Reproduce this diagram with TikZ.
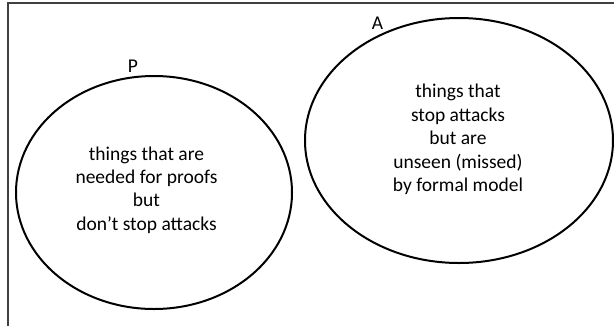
\documentclass[tikz,border=0pt]{standalone}
\usepackage{fontspec}
\setmainfont{Carlito}
\usetikzlibrary{shapes.geometric}
\begin{document}
\begin{tikzpicture}[x=1pt,y=-1pt,
  setellipse/.style={draw=black, line width=2pt, ellipse, inner sep=0pt},
  bodytext/.style={align=center, font=\fontsize{19.5}{23.4}\selectfont, inner sep=0pt},
  setlabel/.style={font=\fontsize{19.5}{23}\selectfont, inner sep=0pt}]
\useasboundingbox (0,0) rectangle (614,325);
\draw[line width=2pt, black!75] (7.5,330) -- (7.5,3) -- (620,3);
\node[setellipse, minimum width=276pt, minimum height=233pt] (P) at (154,192.5) {};
\node[setellipse, minimum width=308pt, minimum height=245pt] (A) at (459,140.5) {};
\node[bodytext] (ptext) at (146.5,190) {things that are\\needed for proofs\\but\\don’t stop attacks};
\node[bodytext] (atext) at (458,139.5) {things that\\stop attacks\\but are\\unseen (missed)\\by formal model};
\node[setlabel] (plabel) at (133,66.5) {P};
\node[setlabel] (alabel) at (377.5,23.5) {A};
\end{tikzpicture}
\end{document}
